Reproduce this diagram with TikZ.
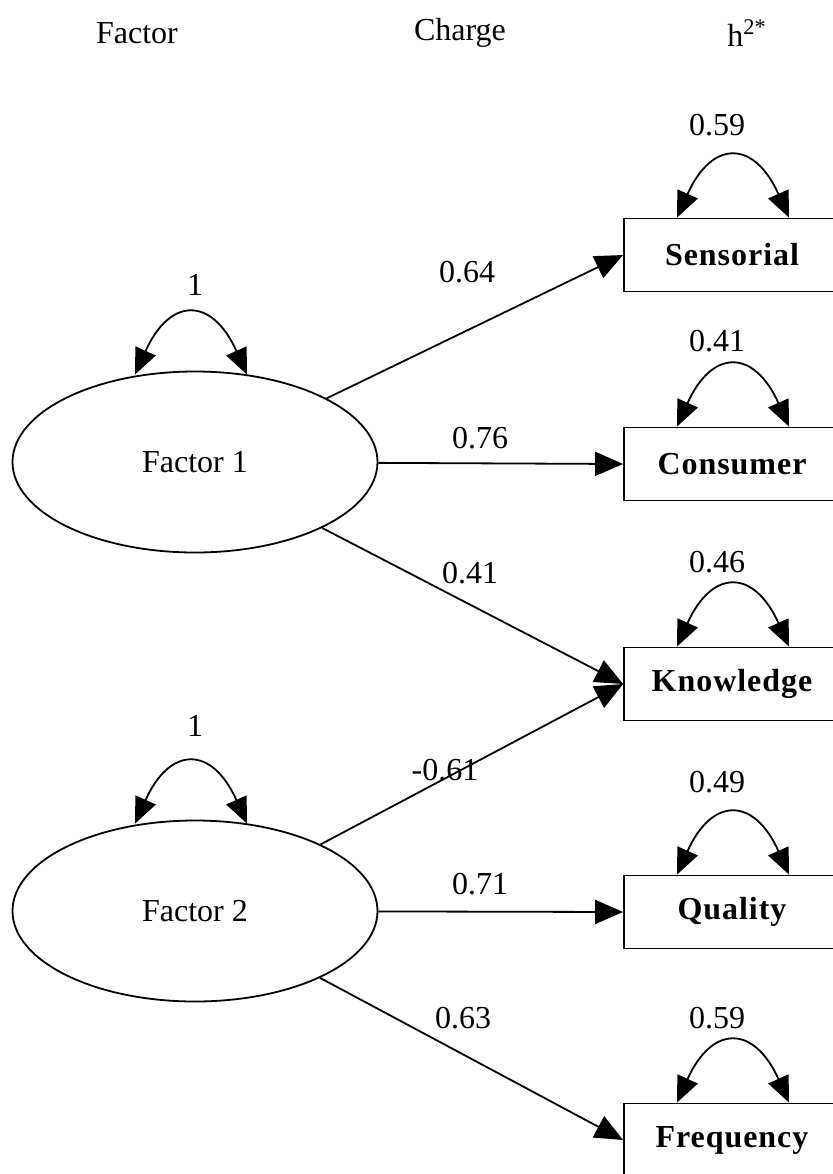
\documentclass[tikz,border=0pt]{standalone}
\usepackage{fontspec}
\setmainfont{Liberation Serif}
\newfontfamily\itemfont[LetterSpace=3]{Liberation Serif}
\usetikzlibrary{arrows.meta,shapes.geometric,calc}

\tikzset{
	latent/.style={draw, line width=0.9pt, ellipse, inner sep=0pt,
		minimum width=182.5pt, minimum height=90.5pt},
	observed/.style={draw, line width=0.9pt, rectangle, inner sep=0pt,
		minimum width=108pt, minimum height=36.5pt,
		font=\fontsize{16}{19}\itemfont\bfseries},
	loading/.style={line width=0.9pt, -{Triangle[length=14pt,width=12pt]}},
	varloop/.style={line width=0.9pt,
		{Triangle[length=13pt,width=11pt]}-{Triangle[length=13pt,width=11pt]}},
}

\begin{document}
\begin{tikzpicture}[x=0.5pt, y=-0.5pt, font=\fontsize{16}{19}\selectfont]

	\useasboundingbox (0,0) rectangle (833,1174);

	% Column heads
	\node (hfac) at (137,33) {Factor};
	\node (hload) at (460,33) {Charge};
	\node (hcom) at (747,33) {h\textsuperscript{2*}};

	% Factors
	\node[latent] (f1) at (195,462) {Factor 1};
	\node[latent] (f2) at (195,911) {Factor 2};

	% Items
	\node[observed] (sens) at (732,255) {Sensorial};
	\node[observed] (cons) at (732,464) {Consumer};
	\node[observed] (know) at (732,684) {Knowledge};
	\node[observed] (qual) at (732,912) {Quality};
	\node[observed] (freq) at (732,1140) {Frequency};

	% Loadings
	\draw[loading] (f1) -- (sens.west);
	\draw[loading] (f1) -- (cons.west);
	\draw[loading] (f1) -- (know.west);
	\draw[loading] (f2) -- (know.west);
	\draw[loading] (f2) -- (qual.west);
	\draw[loading] (f2) -- (freq.west);

	\node (l1) at (467,272) {0.64};
	\node (l2) at (480,438) {0.76};
	\node (l3) at (470,573) {0.41};
	\node (l4) at (445,770) {-0.61};
	\node (l5) at (480,884) {0.71};
	\node (l6) at (463,1018) {0.63};

	% Factor variances
	\draw[varloop] ($(f1.north)+(-60,4)$) .. controls ($(f1.north)+(-25,-74)$) and ($(f1.north)+(17,-74)$) .. ($(f1.north)+(52,4)$);
	\draw[varloop] ($(f2.north)+(-60,4)$) .. controls ($(f2.north)+(-25,-74)$) and ($(f2.north)+(17,-74)$) .. ($(f2.north)+(52,4)$);
	\node (v1) at (195,285) {1};
	\node (v2) at (195,726) {1};

	% Communalities
	\draw[varloop] ($(sens.north)+(-55,0)$) .. controls ($(sens.north)+(-20,-78)$) and ($(sens.north)+(22,-78)$) .. ($(sens.north)+(57,0)$);
	\draw[varloop] ($(cons.north)+(-55,0)$) .. controls ($(cons.north)+(-20,-78)$) and ($(cons.north)+(22,-78)$) .. ($(cons.north)+(57,0)$);
	\draw[varloop] ($(know.north)+(-55,0)$) .. controls ($(know.north)+(-20,-78)$) and ($(know.north)+(22,-78)$) .. ($(know.north)+(57,0)$);
	\draw[varloop] ($(qual.north)+(-55,0)$) .. controls ($(qual.north)+(-20,-78)$) and ($(qual.north)+(22,-78)$) .. ($(qual.north)+(57,0)$);
	\draw[varloop] ($(freq.north)+(-55,0)$) .. controls ($(freq.north)+(-20,-78)$) and ($(freq.north)+(22,-78)$) .. ($(freq.north)+(57,0)$);
	\node (c1) at (717,125) {0.59};
	\node (c2) at (717,341) {0.41};
	\node (c3) at (717,562) {0.46};
	\node (c4) at (717,782) {0.49};
	\node (c5) at (717,1018) {0.59};

\end{tikzpicture}
\end{document}
